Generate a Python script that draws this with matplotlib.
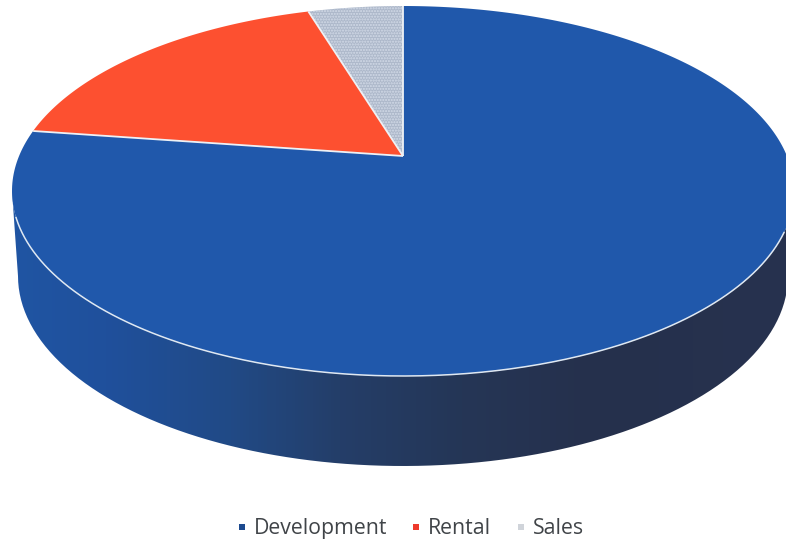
import numpy as np
import matplotlib
matplotlib.use("Agg")
import matplotlib.pyplot as plt
from matplotlib.patches import Polygon, PathPatch
from matplotlib.path import Path
from matplotlib.colors import LinearSegmentedColormap


labels = ["Development", "Rental", "Sales"]
shares = [77.3, 18, 4.7]
colors = ["#2058ab", "#fd5030", "#adb8ca"]
legend_colors = ["#1d4a8f", "#ee3a2c", "#d0d4da"]

# top face of the tilted disc, in pixels
cx, cy, rx, ry = 403, 191, 391, 185
apex_y = 156
tilt = 35 / 185


def rim(theta):
    # perspective: the pie centre sits above the middle of the ellipse
    u, v = np.sin(theta), np.cos(theta)
    x = u * np.sqrt(1 - tilt ** 2) / (1 + tilt * v)
    y = (v + tilt) / (1 + tilt * v)
    return cx + rx * x, cy - ry * y


fig = plt.figure(figsize=(7.86, 5.44), dpi=100)
ax = fig.add_axes([0, 0, 1, 1])

# side wall: front half of the top rim down to a slightly smaller ellipse
t = np.linspace(0, np.pi, 200)
top_x = cx + rx * np.cos(t)
top_y = cy + ry * np.sin(t)
low_x = cx + 385 * np.cos(t[::-1])
low_y = 276 + 190 * np.sin(t[::-1])
wall = Path(np.column_stack([np.r_[top_x, low_x], np.r_[top_y, low_y]]))
shade = LinearSegmentedColormap.from_list(
    "wall", [(0, "#1f55a3"), (0.12, "#1f509c"), (0.28, "#214a86"),
             (0.42, "#243e69"), (0.58, "#253656"), (0.75, "#25304c"), (1, "#27324f")])
img = ax.imshow(np.linspace(0, 1, 256)[None, :], cmap=shade, aspect="auto",
                extent=(12, 790, 466, 190), zorder=1)
img.set_clip_path(PathPatch(wall, transform=ax.transData))
ax.set_xlim(0, 786)
ax.set_ylim(544, 0)
ax.axis("off")

# top face, wedges run anticlockwise from twelve o'clock in reverse order
start = 2 * np.pi
for name, share, color in zip(labels[::-1], shares[::-1], colors[::-1]):
    end = start - 2 * np.pi * share / sum(shares)
    a = np.linspace(start, end, 300)
    x, y = rim(a)
    pts = np.column_stack([np.r_[cx, x], np.r_[apex_y, y]])
    ax.add_patch(Polygon(pts, closed=True, facecolor=color, edgecolor="none", zorder=2))
    if name == "Sales":
        ax.add_patch(Polygon(pts, closed=True, facecolor="none", edgecolor="#d3dbe8",
                             hatch="......", linewidth=0, zorder=3))
    start = end

# white separators between wedges and along the front rim
start = 2 * np.pi
for share in shares[::-1]:
    x, y = rim(start)
    ax.plot([cx, x], [apex_y, y], color="#eef1f5", lw=1.3, zorder=4, solid_capstyle="butt")
    start -= 2 * np.pi * share / sum(shares)
a = np.linspace(np.pi * 0.63, np.pi * 1.395, 300)
x, y = rim(a)
ax.plot(x, y, color="#dfe8f2", lw=1.1, zorder=4)

# legend
xs = [242, 416, 521]
text_xs = [254, 428, 533]
for mx, tx, name, color in zip(xs, text_xs, labels, legend_colors):
    ax.plot(mx, 527, marker="s", ms=4.2, color=color, mew=0, zorder=5)
    ax.text(tx, 528.5, name, family="Open Sans", fontsize=15.3, color="#404448",
            va="center", ha="left", zorder=5)

fig.savefig("out.png", dpi=100)
